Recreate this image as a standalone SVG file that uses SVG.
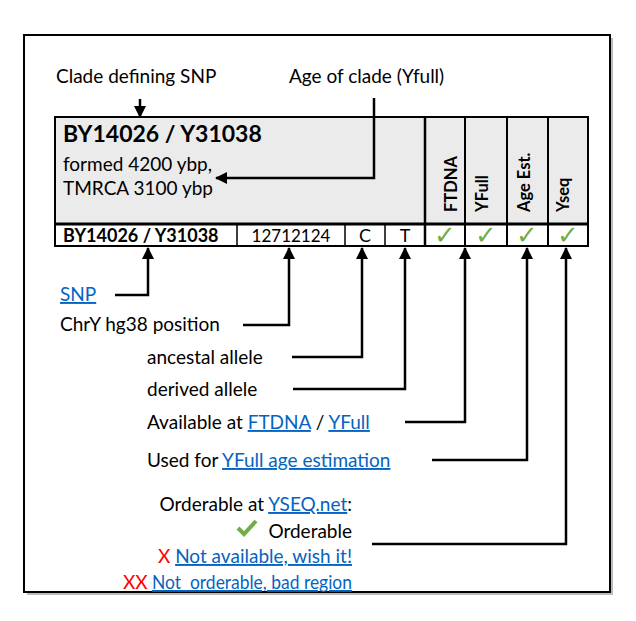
<svg xmlns="http://www.w3.org/2000/svg" width="636" height="621" viewBox="0 0 636 621">
<defs>
<style>
.t{font-family:Lato,"Liberation Sans",sans-serif;font-size:19px;fill:#000}
.b{font-weight:bold}
.lk{fill:#0563c1;text-decoration:underline}
.red{fill:#ff0000}
.chk{font-family:"DejaVu Sans",sans-serif;font-size:26px;fill:#70ad47;text-anchor:middle}
.rot{font-family:Lato,"Liberation Sans",sans-serif;font-size:16.5px;font-weight:bold}
.conn{fill:none;stroke:#000;stroke-width:2.5}
</style>
<marker id="ah" markerWidth="12" markerHeight="12" refX="11" refY="6" orient="auto" markerUnits="userSpaceOnUse">
<path d="M0,0 L12,6 L0,12 Z" fill="#000"/>
</marker>
</defs>
<rect x="0" y="0" width="636" height="621" fill="#fff"/>
<g id="frame">
<rect x="27" y="38" width="586" height="557" fill="#bbb"/>
<rect x="24" y="35" width="586" height="557" fill="#fff" stroke="#000" stroke-width="2"/>
</g>
<g id="table">
<rect x="55" y="117" width="533" height="107" fill="#ebebeb" stroke="#000" stroke-width="2"/>
<rect x="55" y="224" width="533" height="22" fill="#fff" stroke="#000" stroke-width="2"/>
<line x1="425" y1="117" x2="425" y2="246" stroke="#000" stroke-width="2.5"/>
<line x1="465" y1="117" x2="465" y2="246" stroke="#000" stroke-width="2"/>
<line x1="507" y1="117" x2="507" y2="246" stroke="#000" stroke-width="2"/>
<line x1="548" y1="117" x2="548" y2="246" stroke="#000" stroke-width="2"/>
<line x1="55" y1="224" x2="588" y2="224" stroke="#000" stroke-width="3"/>
<line x1="237" y1="224" x2="237" y2="246" stroke="#000" stroke-width="1.5"/>
<line x1="345" y1="224" x2="345" y2="246" stroke="#000" stroke-width="1.5"/>
<line x1="385" y1="224" x2="385" y2="246" stroke="#000" stroke-width="1.5"/>
</g>
<g id="header-snp">
<text class="t b" x="63" y="142" style="font-size:23px">BY14026 / Y31038</text>
<text class="t" x="63" y="171">formed 4200 ybp,</text>
<text class="t" x="63" y="195">TMRCA 3100 ybp</text>
</g>
<g id="header-cols">
<text class="rot" transform="translate(457,212) rotate(-90)">FTDNA</text>
<text class="rot" transform="translate(488,212) rotate(-90)">YFull</text>
<text class="rot" transform="translate(530,212) rotate(-90)">Age Est.</text>
<text class="rot" transform="translate(569,212) rotate(-90)">Yseq</text>
</g>
<g id="row">
<text class="t b" x="63" y="242" style="font-size:18px">BY14026 / Y31038</text>
<text class="t" x="291" y="242" style="font-size:17px" text-anchor="middle">12712124</text>
<text class="t" x="365" y="242" style="font-size:18px" text-anchor="middle">C</text>
<text class="t" x="405" y="242" style="font-size:18px" text-anchor="middle">T</text>
<text class="chk" x="445" y="244">✓</text>
<text class="chk" x="486" y="244">✓</text>
<text class="chk" x="527" y="244">✓</text>
<text class="chk" x="568" y="244">✓</text>
</g>
<g id="label-clade"><text class="t" x="56" y="83">Clade defining SNP</text></g>
<g id="label-age"><text class="t" x="289" y="83">Age of clade (Yfull)</text></g>
<g id="label-snp"><text class="t lk" x="60" y="301">SNP</text></g>
<g id="label-pos"><text class="t" x="60" y="331">ChrY hg38 position</text></g>
<g id="label-anc"><text class="t" x="147" y="364">ancestal allele</text></g>
<g id="label-der"><text class="t" x="147" y="396">derived allele</text></g>
<g id="label-avail"><text class="t" x="147" y="429">Available at <tspan class="lk">FTDNA</tspan> / <tspan class="lk">YFull</tspan></text></g>
<g id="label-used"><text class="t" x="147" y="467">Used for <tspan class="lk">YFull age estimation</tspan></text></g>
<g id="legend">
<text class="t" x="352" y="511" text-anchor="end">Orderable at <tspan class="lk">YSEQ.net</tspan>:</text>
<text class="t" x="352" y="538" text-anchor="end">Orderable</text>
<path d="M238,528 L244,534 L256,521" fill="none" stroke="#70ad47" stroke-width="4"/>
<text class="t" x="352" y="563" text-anchor="end"><tspan class="red">X </tspan><tspan class="lk">Not available, wish it!</tspan></text>
<text class="t" x="123" y="589"><tspan class="red">XX</tspan><tspan class="lk" x="152" textLength="200" lengthAdjust="spacingAndGlyphs" style="white-space:pre">Not  orderable, bad region</tspan></text>
</g>
<g id="connectors">
<path class="conn" d="M140,99 V117" marker-end="url(#ah)"/>
<path class="conn" d="M374,98 V178 H216" marker-end="url(#ah)"/>
<path class="conn" d="M115,295 H148 V248" marker-end="url(#ah)"/>
<path class="conn" d="M243,325 H289 V248" marker-end="url(#ah)"/>
<path class="conn" d="M292,357 H362 V248" marker-end="url(#ah)"/>
<path class="conn" d="M293,389 H405 V248" marker-end="url(#ah)"/>
<path class="conn" d="M405,422 H465 V248" marker-end="url(#ah)"/>
<path class="conn" d="M432,460 H527 V248" marker-end="url(#ah)"/>
<path class="conn" d="M372,544 H566 V248" marker-end="url(#ah)"/>
</g>
</svg>
